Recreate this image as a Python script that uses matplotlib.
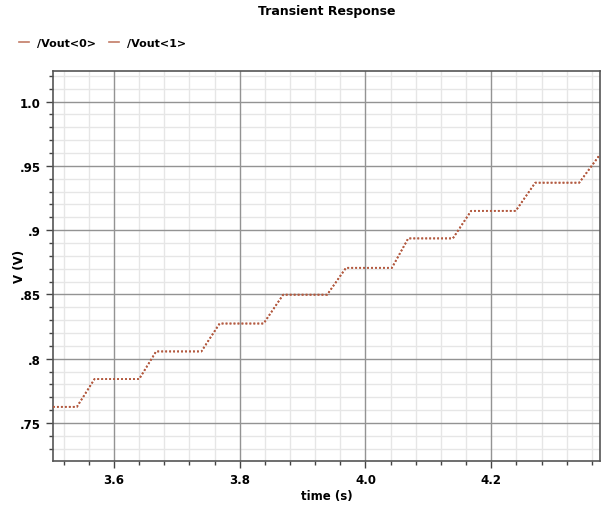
import matplotlib
matplotlib.use("Agg")
import matplotlib.pyplot as plt
from matplotlib.lines import Line2D
from matplotlib.ticker import FixedLocator

# step waveform (time in s, voltage in V)
t_vout0 = [3.503, 3.541, 3.569, 3.640, 3.667, 3.739, 3.768, 3.838, 3.869, 3.939,
           3.969, 4.042, 4.068, 4.139, 4.168, 4.239, 4.270, 4.340, 4.373]
v_vout0 = [0.7626, 0.7626, 0.7842, 0.7842, 0.8057, 0.8057, 0.8274, 0.8274, 0.8498, 0.8498,
           0.8707, 0.8707, 0.8936, 0.8936, 0.9150, 0.9150, 0.9369, 0.9369, 0.9588]
t_vout1 = list(t_vout0)
v_vout1 = list(v_vout0)

series_names = ["/Vout<0>", "/Vout<1>"]
x_ticks = [3.6, 3.8, 4.0, 4.2]
x_labels = ["3.6", "3.8", "4.0", "4.2"]
y_ticks = [0.75, 0.8, 0.85, 0.9, 0.95, 1.0]
y_labels = [".75", ".8", ".85", ".9", ".95", "1.0"]

line_color = "#b35a40"
plt.rcParams["font.family"] = "DejaVu Sans"

fig = plt.figure(figsize=(6.09, 5.06), dpi=100)
ax = fig.add_axes([53/609, 1-462/506, (600-53)/609, (462-71.7)/506])

for t, v in [(t_vout0, v_vout0), (t_vout1, v_vout1)]:
    ax.plot(t, v, color=line_color, lw=1.3, linestyle=(0, (1, 1.2)), zorder=3)

ax.set_xlim(3.503, 4.373)
ax.set_ylim(0.7205, 1.024)

# minor positions, skipping the majors
x_minor = [round(3.52 + 0.04 * i, 2) for i in range(22)]
x_minor = [x for x in x_minor if min(abs(x - m) for m in x_ticks) > 1e-6]
y_minor = [round(0.72 + 0.01 * i, 2) for i in range(31)]
y_minor = [y for y in y_minor if min(abs(y - m) for m in y_ticks) > 1e-6]

ax.xaxis.set_major_locator(FixedLocator(x_ticks))
ax.xaxis.set_minor_locator(FixedLocator(x_minor))
ax.yaxis.set_major_locator(FixedLocator(y_ticks))
ax.yaxis.set_minor_locator(FixedLocator(y_minor))
ax.set_xticklabels(x_labels, fontweight="bold", fontsize=8.5)
ax.set_yticklabels(y_labels, fontweight="bold", fontsize=8.5)

# light minor grid underneath, darker major grid over it
for x in x_minor:
    ax.axvline(x, color="#e6e6e6", lw=1.0, zorder=0.2)
for y in y_minor:
    ax.axhline(y, color="#e6e6e6", lw=1.0, zorder=0.2)
ax.grid(which="major", color="#939393", lw=1.0)
ax.set_axisbelow(True)

ax.tick_params(which="major", direction="out", length=5, width=1, color="#444444", pad=4)
ax.tick_params(which="minor", direction="out", length=3, width=1, color="#444444")
ax.tick_params(top=False, right=False)
for side in ax.spines:
    ax.spines[side].set_color("#555555")
    ax.spines[side].set_linewidth(1.2)

ax.set_xlabel("time (s)", fontweight="bold", fontsize=8.5, labelpad=2)
ax.set_ylabel("V (V)", fontweight="bold", fontsize=8.5)
ax.yaxis.set_label_coords(-0.05, 0.5)

fig.text((53+600)/2/609, 1-12/506, "Transient Response", ha="center", va="center",
         fontweight="bold", fontsize=9)

handles = [Line2D([], [], color=line_color, lw=1.2, alpha=0.8) for _ in series_names]
fig.legend(handles, series_names, loc="center left", bbox_to_anchor=(0.015, 1-44/506),
           ncol=2, frameon=False, handlelength=0.9, handletextpad=0.7, columnspacing=1.2,
           prop={"weight": "bold", "size": 8})

fig.savefig("out.png", dpi=100)
